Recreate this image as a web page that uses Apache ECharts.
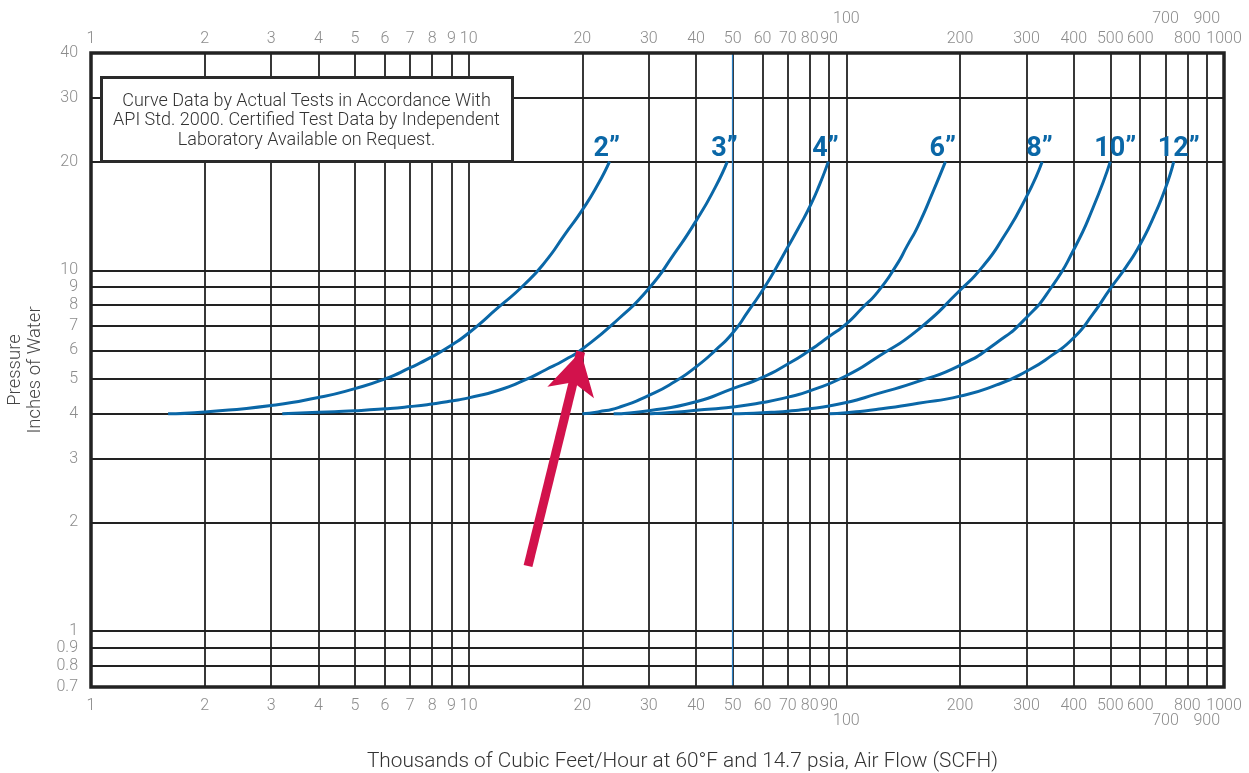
<!DOCTYPE html>
<html><head><meta charset="utf-8">
<script src="https://cdn.jsdelivr.net/npm/echarts@6/dist/echarts.min.js"></script>
<style>html,body{margin:0;padding:0;background:#fff}#c{width:1249px;height:773px}</style>
</head><body><div id="c"></div>
<script>
// ---- tick labels ----
const xTicks = [1,2,3,4,5,6,7,8,9,10,20,30,40,50,60,70,80,90,200,300,400,500,600,800,1000];
const xShifted = [100,700,900];
const xGrid = [1,2,3,4,5,6,7,8,9,10,20,30,40,50,60,70,80,90,100,200,300,400,500,600,700,800,900,1000];
const yTicks = [0.7,0.8,0.9,1,2,3,4,5,6,7,8,9,10,20,30,40];
const markedFlow = 50;

// ---- curves (flow in thousands SCFH, pressure in inches of water) ----
const sizeNames = ['2”','3”','4”','6”','8”','10”','12”'];
const flow2  = [1.6, 2, 3, 4, 5, 6, 7, 8, 9, 10, 12, 14, 16, 18, 20, 22, 23.6];
const pres2  = [4.0, 4.05, 4.22, 4.44, 4.7, 5.0, 5.37, 5.76, 6.2, 6.7, 7.9, 9.1, 10.6, 12.6, 14.7, 17.3, 20];
const flow3  = [3.21, 4, 5, 6, 7, 8, 9, 10, 12, 14, 16, 18, 20, 25, 30, 35, 40, 45, 48.4];
const pres3  = [4.0, 4.04, 4.08, 4.13, 4.19, 4.26, 4.34, 4.43, 4.65, 4.95, 5.3, 5.65, 6.05, 7.35, 8.9, 11.1, 13.7, 17.0, 20];
const flow4  = [20, 22, 25, 30, 35, 40, 45, 50, 55, 60, 65, 70, 75, 80, 85, 89.6];
const pres4  = [4.0, 4.05, 4.17, 4.5, 4.9, 5.4, 6.0, 6.7, 7.7, 8.8, 10.1, 11.6, 13.2, 15.0, 17.3, 20];
const flow6  = [24.2, 30, 40, 50, 60, 70, 80, 90, 100, 110, 121, 135.5, 145, 155, 170, 183];
const pres6  = [4.0, 4.08, 4.32, 4.7, 5.05, 5.5, 6.0, 6.55, 7.1, 7.85, 8.7, 10.3, 11.7, 13.3, 16.6, 20];
const flow8  = [30.2, 35, 40, 50, 60, 70, 80, 100, 121, 155, 200, 229, 260, 300, 330];
const pres8  = [4.0, 4.04, 4.09, 4.18, 4.3, 4.45, 4.63, 5.1, 5.75, 6.85, 8.8, 10.2, 12.3, 16.0, 20];
const flow10 = [50, 60, 70, 80, 100, 121, 155, 200, 250, 300, 350, 400, 450, 500];
const pres10 = [4.0, 4.03, 4.07, 4.13, 4.3, 4.55, 4.92, 5.45, 6.3, 7.4, 9.0, 11.4, 14.9, 20];
const flow12 = [90.2, 100, 121, 155, 200, 250, 300, 350, 400, 450, 500, 550, 600, 650, 700, 736];
const pres12 = [4.0, 4.03, 4.12, 4.28, 4.48, 4.81, 5.25, 5.81, 6.5, 7.57, 8.9, 10.2, 11.8, 14.0, 16.9, 20];

// ---- annotation arrow (tail -> tip), data coords ----
const arrowTail = [14.36, 1.515];
const arrowHead = [19.8, 5.95];

const noteText = 'Curve Data by Actual Tests in Accordance With\nAPI Std. 2000. Certified Test Data by Independent\nLaboratory Available on Request.';

const flows = [flow2, flow3, flow4, flow6, flow8, flow10, flow12];
const press = [pres2, pres3, pres4, pres6, pres8, pres10, pres12];

const BLUE = '#0a67a7';
const LABEL_GRAY = '#8c8c8c';
const FONT = 'Roboto';

const series = flows.map((fx, i) => ({
  type: 'line',
  name: sizeNames[i],
  data: fx.map((x, j) => [x, press[i][j]]),
  smooth: 0.6,
  showSymbol: false,
  symbol: 'none',
  lineStyle: { color: BLUE, width: 3 },
  z: 5,
  silent: true,
  endLabel: {
    show: true,
    formatter: sizeNames[i],
    color: BLUE,
    fontSize: 27,
    fontWeight: 'bold',
    fontFamily: FONT,
    offset: [-24, -12]
  }
}));

series[0].markLine = {
  silent: true, symbol: 'none', label: { show: false },
  lineStyle: { color: '#2a7fc4', width: 1.2, type: 'solid' },
  data: [{ xAxis: markedFlow }],
  z: 3
};
series[1].markLine = {
  silent: true, symbol: ['none', 'arrow'], symbolSize: [36, 42],
  label: { show: false },
  lineStyle: { color: '#d2124c', width: 9, type: 'solid', cap: 'butt' },
  itemStyle: { color: '#d2124c' },
  data: [[{ coord: arrowTail }, { coord: arrowHead }]],
  z: 10
};

const axisLabelBase = { color: LABEL_GRAY, fontSize: 16, fontFamily: FONT, fontWeight: 300, showMinLabel: true, showMaxLabel: true, hideOverlap: false };

function labelAxis(position, values, margin, offset) {
  return {
    type: 'log', min: 1, max: 1000, position: position, offset: offset,
    axisLine: { show: false }, axisTick: { show: false, customValues: values },
    axisLabel: Object.assign({}, axisLabelBase, { customValues: values, margin: margin, formatter: v => String(v) }),
    splitLine: { show: false }
  };
}

const bottomMain = labelAxis('bottom', xTicks, 11, 0);
bottomMain.axisTick.customValues = xGrid;
bottomMain.splitLine = { show: true, lineStyle: { color: '#222', width: 1.8 } };
bottomMain.name = 'Thousands of Cubic Feet/Hour at 60°F and 14.7 psia, Air Flow (SCFH)';
bottomMain.nameLocation = 'middle';
bottomMain.nameGap = 64;
bottomMain.nameTextStyle = { color: '#333', fontSize: 20.8, fontFamily: FONT, fontWeight: 300, padding: [0, 0, 0, 50] };

const option = {
  backgroundColor: '#fff',
  animation: false,
  grid: { left: 91, right: 25, top: 53, bottom: 86, containLabel: false, outerBoundsMode: 'none',
          show: true, borderColor: '#222', borderWidth: 3.5, backgroundColor: 'transparent', z: 6 },
  xAxis: [
    bottomMain,
    labelAxis('bottom', xShifted, 11, 15),
    labelAxis('top', xTicks, 6, 0),
    labelAxis('top', xShifted, 6, 20)
  ],
  yAxis: {
    type: 'log', min: 0.7, max: 40,
    axisLine: { show: false }, axisTick: { show: false, customValues: yTicks },
    axisLabel: Object.assign({}, axisLabelBase, { customValues: yTicks, margin: 13, formatter: v => String(v) }),
    splitLine: { show: true, lineStyle: { color: '#222', width: 1.8 } },
    name: 'Pressure\nInches of Water', nameLocation: 'middle', nameGap: 42, nameRotate: 90,
    nameTextStyle: { color: '#444', fontSize: 18.5, fontFamily: FONT, fontWeight: 300, lineHeight: 20 }
  },
  series: series,
  graphic: [{
    type: 'group', left: 100, top: 76, z: 100,
    children: [
      { type: 'rect', z: 100, shape: { x: 0, y: 0, width: 411, height: 84 }, style: { fill: '#fff', stroke: '#2a2a2a', lineWidth: 3 } },
      { type: 'text', z: 101, x: 205, y: 43, style: { text: noteText, align: 'center', verticalAlign: 'middle', fontSize: 18, fontFamily: FONT, fontWeight: 300, fill: '#333', lineHeight: 19.5 } }
    ]
  }]
};

const chart = echarts.init(document.getElementById('c'), null, { renderer: 'canvas' });
chart.setOption(option);
</script>
</body></html>
